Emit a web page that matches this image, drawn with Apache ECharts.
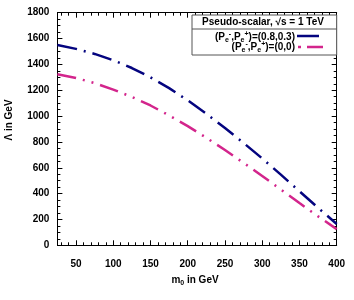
<!DOCTYPE html>
<html><head><meta charset="utf-8">
<script src="https://cdn.jsdelivr.net/npm/echarts@6/dist/echarts.min.js"></script>
<style>html,body{margin:0;padding:0;background:#fff}#c{width:354px;height:300px}</style>
</head><body><div id="c"></div>
<script>
const xValues = [25,50,75,100,125,150,175,200,225,250,275,300,325,350,375,400];
const blueValues = [1550,1520,1481,1432,1372,1300,1216,1122,1018,908,792,672,547,418,290,165];
const pinkValues = [1323,1295,1255,1205,1148,1082,1005,922,832,737,638,536,432,327,224,125];
const xTickLabels = [50,100,150,200,250,300,350,400];
const xMinorTicks = [30,40,60,70,80,90,110,120,130,140,160,170,180,190,210,220,230,240,260,270,280,290,310,320,330,340,360,370,380,390];
const seriesNames = ['(0.8,0.3)', '(0,0)'];
const legendTitle = 'Pseudo-scalar, \u221As = 1 TeV';

const FONT = '"Liberation Sans", Arial, sans-serif';
const BLUE = '#04047f';
const PINK = '#d3258c';
const chart = echarts.init(document.getElementById('c'));

function xAxisDef(pos, major) {
  return {
    type: 'value', position: pos, min: 25, max: 400,
    axisLine: {show: major, lineStyle: {color: '#000', width: 1}},
    axisTick: {inside: true, length: major ? 5 : 3, customValues: major ? xTickLabels : xMinorTicks, lineStyle: {color: '#000'}},
    axisLabel: {show: major && pos === 'bottom', customValues: xTickLabels, fontFamily: FONT, fontWeight: 'bold', fontSize: 10, color: '#000', margin: 14},
    splitLine: {show: false}
  };
}
function yAxisDef(pos) {
  return {
    type: 'value', position: pos, min: 0, max: 1800, interval: 200,
    axisLine: {show: true, lineStyle: {color: '#000', width: 1}},
    axisTick: {inside: true, length: 5, lineStyle: {color: '#000'}},
    minorTick: {show: true, splitNumber: 4, length: 3, lineStyle: {color: '#000'}},
    axisLabel: {show: pos === 'left', formatter: v => String(v), fontFamily: FONT, fontWeight: 'bold', fontSize: 10, color: '#000', margin: 8},
    splitLine: {show: false}
  };
}

const sub = {fontFamily: FONT, fontWeight: 'bold', fontSize: 7, lineHeight: 7, verticalAlign: 'bottom', color: '#000'};
const sup = {fontFamily: FONT, fontWeight: 'bold', fontSize: 7, lineHeight: 7, verticalAlign: 'top', color: '#000'};
const main = {fontFamily: FONT, fontWeight: 'bold', fontSize: 10, lineHeight: 13, color: '#000'};
function entryText(v) {
  return '{m|(P}{s|e}{p|-}{m|,P}{s|e}{p|+}{m|)=' + v + '}';
}

chart.setOption({
  animation: false,
  backgroundColor: '#fff',
  grid: {left: 57.4, right: 17.3, top: 12.7, bottom: 54.7},
  xAxis: [xAxisDef('bottom', true), xAxisDef('bottom', false), xAxisDef('top', true), xAxisDef('top', false)],
  yAxis: [yAxisDef('left'), yAxisDef('right')],
  series: [
    {name: seriesNames[0], type: 'line', showSymbol: false, symbol: 'none',
     data: xValues.map((x, i) => [x, blueValues[i]]),
     lineStyle: {color: BLUE, width: 2.5, type: [20, 7, 2, 7], cap: 'butt'}},
    {name: seriesNames[1], type: 'line', showSymbol: false, symbol: 'none',
     data: xValues.map((x, i) => [x, pinkValues[i]]),
     lineStyle: {color: PINK, width: 2.5, type: [19, 7, 2, 7, 2, 7], cap: 'butt'}}
  ],
  graphic: [
    {type: 'rect', shape: {x: 192, y: 15, width: 144.7, height: 40}, style: {fill: '#fff', stroke: '#555', lineWidth: 1}, z: 10},
    {type: 'line', shape: {x1: 192, y1: 29, x2: 336.7, y2: 29}, style: {stroke: '#555', lineWidth: 1}, z: 10},
    {type: 'text', x: 263, y: 22.5, style: {text: legendTitle, font: 'bold 10px ' + FONT, fill: '#000', align: 'center', verticalAlign: 'middle'}, z: 11},
    {type: 'text', x: 295, y: 37, style: {text: entryText(seriesNames[0]), rich: {m: main, s: sub, p: sup}, align: 'right', verticalAlign: 'middle'}, z: 11},
    {type: 'text', x: 295, y: 47, style: {text: entryText(seriesNames[1]), rich: {m: main, s: sub, p: sup}, align: 'right', verticalAlign: 'middle'}, z: 11},
    {type: 'line', shape: {x1: 297, y1: 36, x2: 319, y2: 36}, style: {stroke: BLUE, lineWidth: 2.5}, z: 11},
    {type: 'line', shape: {x1: 298, y1: 47, x2: 323, y2: 47}, style: {stroke: PINK, lineWidth: 2.5, lineDash: [3, 6, 16, 5]}, z: 11},
    {type: 'text', x: 9, y: 120, rotation: Math.PI / 2, style: {text: '\u039B in GeV', font: 'bold 10px ' + FONT, fill: '#000', align: 'center', verticalAlign: 'middle'}},
    {type: 'text', x: 195, y: 280, style: {text: '{m|m}{s|0}{m| in GeV}', rich: {m: main, s: sub}, align: 'center', verticalAlign: 'middle'}}
  ]
});
</script></body></html>
